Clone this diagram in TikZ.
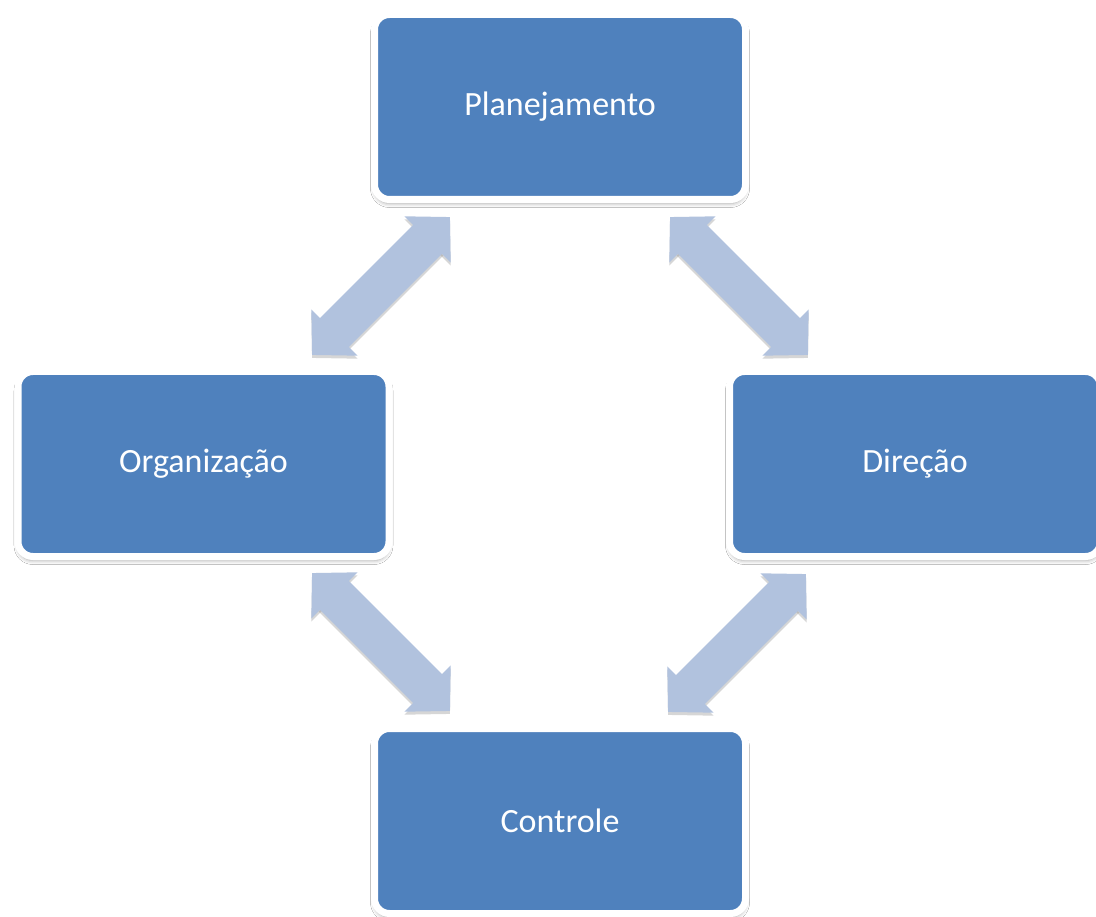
\documentclass[tikz,border=0pt]{standalone}
\usepackage{fontspec}
\setmainfont{Carlito}
\usetikzlibrary{arrows.meta,shadows,shadows.blur}
\definecolor{boxblue}{HTML}{4F81BD}
\definecolor{arrblue}{HTML}{B1C2DE}
\tikzset{
  stagebox/.style={rectangle, rounded corners=15pt, fill=boxblue, draw=white,
    line width=7pt, minimum width=371pt, minimum height=185pt, inner sep=0pt,
    text=white, font=\fontsize{34}{40}\selectfont,
    blur shadow={shadow xshift=0pt, shadow yshift=-4pt, shadow blur radius=4pt, shadow opacity=35}},
  dblarr/.style={draw=arrblue, line width=41pt,
    {Triangle[width=63.6pt,length=31.8pt]}-{Triangle[width=63.6pt,length=31.8pt]}},
  dblshadow/.style={draw=black!45, opacity=0.35, line width=41pt,
    {Triangle[width=63.6pt,length=31.8pt]}-{Triangle[width=63.6pt,length=31.8pt]},
    transform canvas={yshift=-3pt}}
}
\begin{document}
\begin{tikzpicture}[x=1pt,y=-1pt]
\useasboundingbox (0,0) rectangle (1096,917);
\fill[white] (0,0) rectangle (1096,917);
\node[stagebox] (plan) at (560,107) {Planejamento};
\node[stagebox] (org) at (203.5,464) {Organização};
\node[stagebox] (dir) at (915,464) {Direção};
\node[stagebox] (ctl) at (560,821) {Controle};
\coordinate (a1) at (450,217); \coordinate (a2) at (312,355);
\coordinate (b1) at (670,217); \coordinate (b2) at (808,355);
\coordinate (c1) at (312,573); \coordinate (c2) at (450,711);
\coordinate (d1) at (806,574); \coordinate (d2) at (668,712);
\foreach \p/\q in {a1/a2,b1/b2,c1/c2,d1/d2}{
  \draw[dblshadow] (\p) -- (\q);
}
\foreach \p/\q in {a1/a2,b1/b2,c1/c2,d1/d2}{
  \draw[dblarr] (\p) -- (\q);
}
\end{tikzpicture}
\end{document}
